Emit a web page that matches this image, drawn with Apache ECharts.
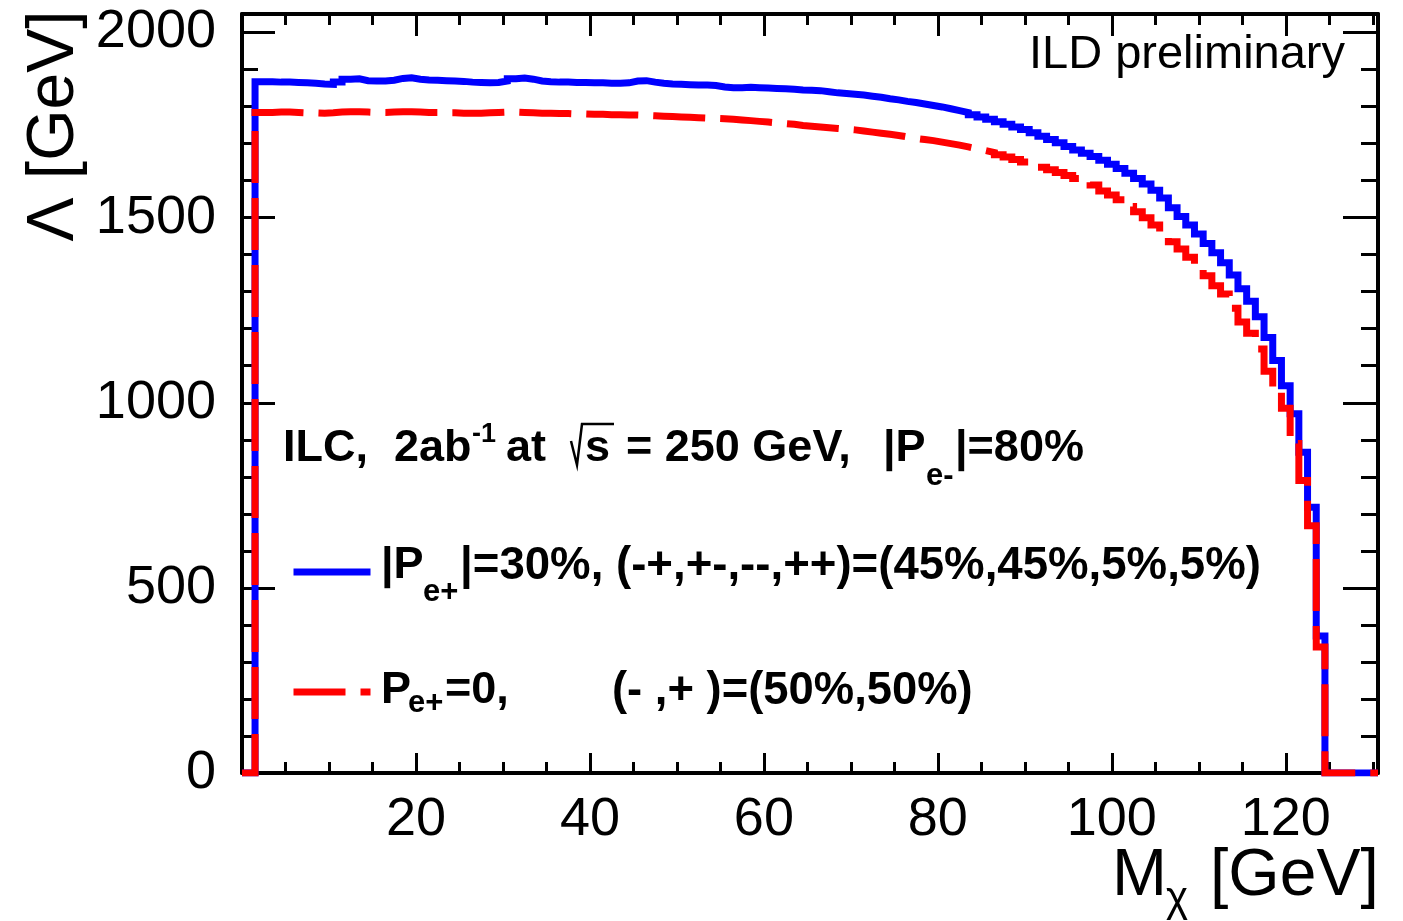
<!DOCTYPE html>
<html>
<head>
<meta charset="utf-8">
<title>Lambda vs M_chi</title>
<script src="https://cdn.jsdelivr.net/npm/echarts@6/dist/echarts.min.js"></script>
<style>
  html, body { margin: 0; padding: 0; background: #fff; }
  #chart { width: 1403px; height: 921px; }
</style>
</head>
<body>
<div id="chart"></div>
<script>
// histogram: 1 GeV bins, centres 2..124 GeV
const firstBinLow = 1.5
const binWidth = 1

// |Pe+|=30%  (blue, solid)
const lambdaPol30 = [
  1867, 1867, 1866, 1866, 1865, 1864, 1863, 1861, 1860,
  1866, 1874, 1875, 1870, 1869, 1869, 1871, 1876, 1878, 1874,
  1872, 1871, 1870, 1869, 1868, 1866, 1865, 1864, 1865, 1869,
  1875, 1877, 1874, 1869, 1867, 1866, 1866, 1865, 1865, 1864,
  1864, 1863, 1863, 1864, 1869, 1870, 1866, 1863, 1861, 1860,
  1859, 1858, 1858, 1857, 1853, 1851, 1851, 1852, 1851, 1850,
  1849, 1848, 1847, 1845, 1844, 1843, 1840, 1837, 1835, 1833,
  1831, 1828, 1825, 1821, 1818, 1814, 1811, 1807, 1803, 1799,
  1794, 1789, 1784, 1778, 1772, 1766, 1759, 1752, 1745, 1738,
  1729, 1720, 1711, 1702, 1692, 1683, 1674, 1665, 1655, 1644,
  1633, 1620, 1606, 1591, 1574, 1553, 1527, 1503, 1480, 1456,
  1430, 1405, 1378, 1345, 1308, 1274, 1232, 1176, 1114, 1046,
  970, 866, 718, 370
]

// Pe+=0  (red, dashed)
const lambdaPol0 = [
  1784, 1784, 1785, 1785, 1784, 1783, 1783, 1782, 1783,
  1785, 1786, 1786, 1785, 1784, 1784, 1785, 1786, 1786, 1785,
  1784, 1784, 1783, 1783, 1782, 1782, 1782, 1783, 1784, 1785,
  1785, 1784, 1783, 1782, 1782, 1781, 1781, 1780, 1780, 1779,
  1779, 1778, 1778, 1777, 1777, 1776, 1775, 1774, 1773, 1772,
  1771, 1770, 1769, 1768, 1767, 1766, 1764, 1762, 1760, 1758,
  1756, 1754, 1752, 1749, 1747, 1745, 1743, 1741, 1739, 1737,
  1734, 1731, 1728, 1725, 1722, 1718, 1714, 1711, 1708, 1704,
  1700, 1696, 1691, 1686, 1681, 1676, 1670, 1664, 1657, 1650,
  1643, 1636, 1629, 1622, 1614, 1606, 1597, 1588, 1572, 1561,
  1548, 1530, 1516, 1500, 1480, 1455, 1435, 1415, 1393, 1368,
  1343, 1316, 1294, 1255, 1218, 1188, 1145, 1085, 1030, 985,
  890, 790, 668, 340
]

const xMin = 0
const xMax = 130.6
const yMin = 0
const yMax = 2050
const xTickLabels = [20, 40, 60, 80, 100, 120]
const yTickLabels = [0, 500, 1000, 1500, 2000]

const FONT = '"Liberation Sans", Arial, Helvetica, sans-serif'

// step histogram points: left edge of each bin + closing edge
function histPoints(vals) {
  const pts = [[xMin, 0]]
  vals.forEach(function (v, i) {
    pts.push([firstBinLow + i * binWidth, v])
  })
  pts.push([firstBinLow + vals.length * binWidth, 0])
  pts.push([xMax, 0])
  return pts
}

function txt(x, y, s, size, weight, align, extra) {
  const a = align || "left"
  return Object.assign({
    type: "text",
    x: x,
    y: y,
    silent: true,
    style: {
      text: s,
      fill: "#000",
      font: (weight || "bold") + " " + size + "px " + FONT,
      align: a,
      verticalAlign: "middle",
      textAlign: a,
      textVerticalAlign: "middle"
    }
  }, extra || {})
}

const frame = { show: true, onZero: false, lineStyle: { color: "#000", width: 4 } }

function xAxisDef(pos, showLabel, major, minor) {
  return {
    type: "value",
    position: pos,
    min: xMin,
    max: xMax,
    interval: 20,
    axisLine: frame,
    axisTick: { show: true, inside: true, length: major, lineStyle: { color: "#000", width: 3 } },
    minorTick: { show: true, splitNumber: 4, length: minor, lineStyle: { color: "#000", width: 3 } },
    splitLine: { show: false },
    minorSplitLine: { show: false },
    axisLabel: {
      show: showLabel,
      margin: 20,
      fontSize: 54,
      fontFamily: FONT,
      color: "#000",
      showMinLabel: true,
      showMaxLabel: true,
      formatter: function (v) {
        return xTickLabels.indexOf(v) >= 0 ? String(v) : ""
      }
    }
  }
}

function yAxisDef(pos, showLabel, major, minor) {
  return {
    type: "value",
    position: pos,
    min: yMin,
    max: yMax,
    interval: 500,
    axisLine: frame,
    axisTick: { show: true, inside: true, length: major, lineStyle: { color: "#000", width: 3 } },
    minorTick: { show: true, splitNumber: 5, length: minor, lineStyle: { color: "#000", width: 3 } },
    splitLine: { show: false },
    minorSplitLine: { show: false },
    axisLabel: {
      show: showLabel,
      margin: 26,
      fontSize: 54,
      fontFamily: FONT,
      color: "#000",
      showMinLabel: true,
      showMaxLabel: true,
      formatter: function (v) {
        return yTickLabels.indexOf(v) >= 0 ? String(v) : ""
      }
    }
  }
}

const legendBase = {
  left: 290, padding: 0, itemWidth: 77, itemHeight: 14,
  selectedMode: false,
  formatter: function () { return "" },
  lineStyle: { width: 7 },
  itemStyle: { opacity: 0 }
}

let option = {
  backgroundColor: "#fff",
  animation: false,
  grid: { left: 242, right: 25, top: 14, bottom: 148, containLabel: false },
  xAxis: [xAxisDef("bottom", true, 20, 11), xAxisDef("top", false, 22, 11)],
  yAxis: [yAxisDef("left", true, 33, 16), yAxisDef("right", false, 35, 17)],
  legend: [
    Object.assign({ data: ["pol30"], top: 565 }, legendBase),
    Object.assign({ data: ["pol0"], top: 685 }, legendBase)
  ],
  series: [
    {
      name: "pol30",
      type: "line",
      step: "end",
      xAxisIndex: 0,
      yAxisIndex: 0,
      symbol: "none",
      showSymbol: false,
      data: histPoints(lambdaPol30),
      lineStyle: { color: "#0000ff", width: 7, cap: "butt", join: "miter" },
      itemStyle: { color: "#0000ff" },
      z: 3
    },
    {
      name: "pol0",
      type: "line",
      step: "end",
      xAxisIndex: 0,
      yAxisIndex: 0,
      symbol: "none",
      showSymbol: false,
      data: histPoints(lambdaPol0),
      lineStyle: { color: "#ff0000", width: 7, type: [52, 15], cap: "butt", join: "miter" },
      itemStyle: { color: "#ff0000" },
      z: 4
    }
  ],
  graphic: [
    txt(1345, 55, "ILD preliminary", 47, "normal", "right"),

    // ILC,  2ab^-1 at  sqrt(s) = 250 GeV,  |P_e-|=80%
    txt(283, 449, "ILC,", 45),
    txt(394, 449, "2ab", 45),
    txt(472, 435, "-1", 27),
    txt(506, 449, "at", 45),
    {
      type: "polyline", silent: true,
      shape: { points: [[571, 441], [577, 465], [582, 424], [614, 424]] },
      style: { stroke: "#000", lineWidth: 2.5, fill: null }
    },
    txt(585, 449, "s", 45),
    txt(626, 449, "= 250 GeV,", 45),
    txt(883, 449, "|P", 45),
    txt(926, 476, "e-", 31),
    txt(955, 449, "|=80%", 45),

    // legend texts
    txt(381, 566, "|P", 45),
    txt(423, 592, "e+", 31),
    txt(460, 566, "|=30%, (-+,+-,--,++)=(45%,45%,5%,5%)", 45.6),
    txt(381, 691, "P", 45),
    txt(408, 703, "e+", 31),
    txt(445, 691, "=0,", 45),
    txt(612, 691, "(- ,+ )=(50%,50%)", 45.4),

    // axis titles
    txt(1112, 877, "M", 66, "normal"),
    txt(1166, 899, "χ", 42, "normal"),
    txt(1210, 877, "[GeV]", 66, "normal"),
    {
      type: "text", silent: true, x: 55, y: 126, rotation: Math.PI / 2,
      style: {
        text: "Λ [GeV]", fill: "#000", font: "normal 66px " + FONT,
        align: "center", verticalAlign: "middle", textAlign: "center", textVerticalAlign: "middle"
      }
    }
  ]
}

const myChart = echarts.init(document.getElementById("chart"))
myChart.setOption(option)
window.addEventListener("resize", function () {
  myChart.resize()
})
</script>
</body>
</html>
